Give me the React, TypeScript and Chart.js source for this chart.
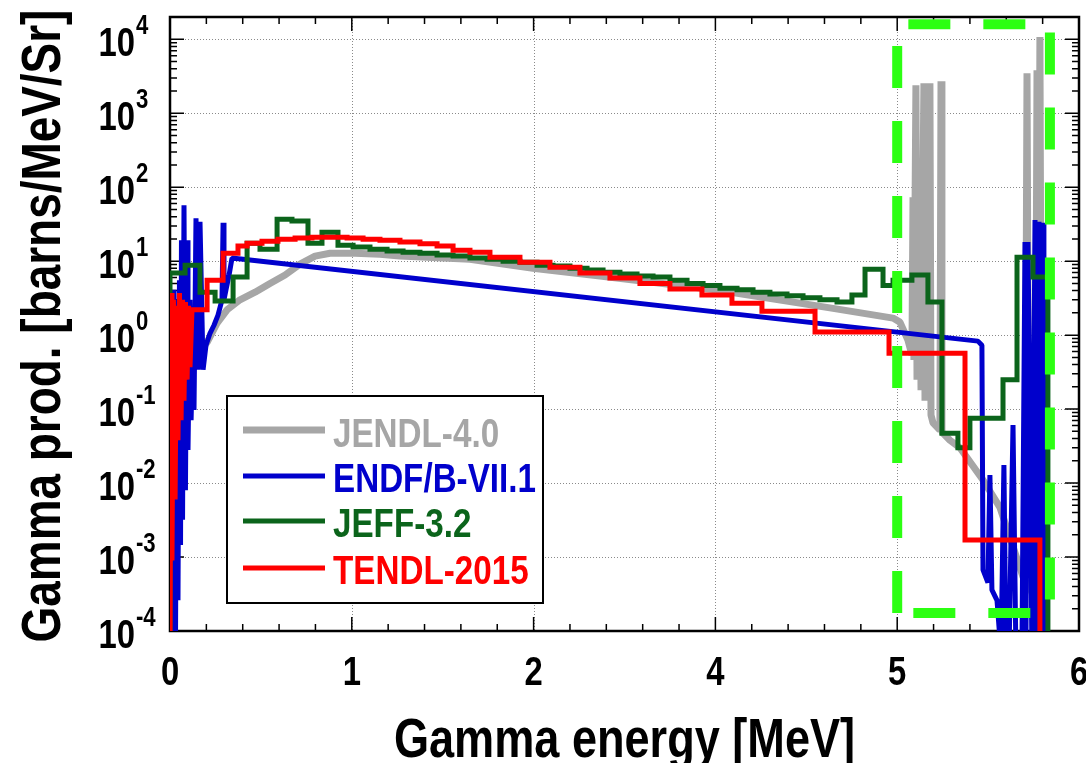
import React, { useEffect, useRef } from "react";
import { Chart, registerables } from "chart.js";

Chart.register(...registerables);

// ---------- axis / labels ----------
const xTickPositions = [0, 1, 2, 3, 4, 5];
const xTickLabels = ["0", "1", "2", "4", "5", "6"];
const yDecades = [-4, -3, -2, -1, 0, 1, 2, 3, 4];
const xTitle = "Gamma energy [MeV]";
const yTitle = "Gamma prod. [barns/MeV/Sr]";

const seriesNames = ["JENDL-4.0", "ENDF/B-VII.1", "JEFF-3.2", "TENDL-2015"];
const seriesColors = ["#a6a6a6", "#0000cc", "#0b641b", "#ff0000"];
const seriesWidths = [7, 5, 5, 5];
const boxColor = "#2cff12";

// ---------- JENDL-4.0 (gray) ----------
const jendlX = [0.003, 0.017, 0.044, 0.099, 0.154, 0.204, 0.259, 0.314, 0.385, 0.468, 0.55, 0.633, 0.715, 0.798, 0.88, 1.018, 1.155, 1.265, 1.65, 1.997, 2.365, 2.998, 3.647, 3.977, 4.015, 4.059, 4.081, 4.087, 4.092, 4.103, 4.109, 4.125, 4.131, 4.147, 4.153, 4.175, 4.18, 4.186, 4.197, 4.235, 4.241, 4.246, 4.29, 4.345, 4.472, 4.565, 4.692, 4.703, 4.714, 4.725, 4.758, 4.769, 4.774, 4.785, 4.796, 4.807];
const jendlY = [5e-5, 0.011, 0.071, 0.25, 0.54, 0.8, 1.45, 2.2, 3.0, 3.8, 5.0, 6.5, 9.1, 11.7, 12.8, 12.8, 12.4, 11.7, 10.6, 8.0, 6.3, 4.1, 2.3, 1.7, 1.5, 0.86, 0.54, 73, 0.46, 2390, 0.25, 73, 0.18, 2540, 0.13, 78, 2540, 0.083, 0.065, 0.052, 2710, 0.049, 0.038, 0.03, 0.011, 0.0047, 5.4e-4, 4.9e-4, 3470, 4.2e-4, 2.6e-4, 3800, 2.6e-4, 10700, 1.5e-4, 5e-5];

// ---------- ENDF/B-VII.1 (blue) ----------
const endfX = [0.003, 0.008, 0.014, 0.022, 0.03, 0.039, 0.044, 0.052, 0.058, 0.063, 0.069, 0.077, 0.085, 0.094, 0.099, 0.11, 0.116, 0.127, 0.132, 0.143, 0.154, 0.165, 0.182, 0.198, 0.22, 0.242, 0.264, 0.286, 0.292, 0.297, 0.308, 0.325, 0.341, 4.444, 4.466, 4.472, 4.499, 4.51, 4.521, 4.549, 4.571, 4.587, 4.598, 4.615, 4.637, 4.653, 4.686, 4.703, 4.708, 4.719, 4.73, 4.741, 4.758, 4.769, 4.78, 4.791, 4.802, 4.807];
const endfY = [5e-5, 1.6, 5e-5, 4.1, 5e-5, 3.0, 2.6e-4, 5.5, 1.45e-3, 19.2, 3.2e-3, 57, 8.0e-3, 19.2, 0.028, 3.0, 0.071, 1.17, 0.097, 38, 0.34, 34, 0.34, 0.73, 1.06, 1.36, 1.86, 3.0, 33, 3.0, 4.1, 6.5, 11.0, 0.83, 0.73, 6.7e-4, 4.5e-4, 0.0128, 3.6e-4, 2.6e-4, 5e-5, 0.0175, 5e-5, 5e-5, 0.061, 5e-5, 5e-5, 18.1, 5e-5, 18.1, 0.097, 5e-5, 36, 5e-5, 34, 5e-5, 33, 5e-5];

// ---------- JEFF-3.2 (green) histogram ----------
const jeffEdges = [0, 0.083, 0.165, 0.248, 0.347, 0.424, 0.495, 0.589, 0.671, 0.759, 0.836, 0.924, 1.007, 1.1, 1.194, 1.282, 1.375, 1.469, 1.557, 1.65, 1.744, 1.832, 1.925, 2.019, 2.107, 2.2, 2.294, 2.382, 2.475, 2.569, 2.657, 2.75, 2.844, 2.932, 3.025, 3.119, 3.207, 3.3, 3.394, 3.482, 3.575, 3.669, 3.751, 3.823, 3.922, 3.977, 4.081, 4.169, 4.246, 4.334, 4.4, 4.582, 4.659, 4.747, 4.829];
const jeffLevels = [6.9, 8.8, 3.8, 2.9, 6.1, 17.5, 14.5, 37, 35, 17.5, 24.6, 16.4, 15.5, 14.5, 13.7, 13.2, 12.8, 12.1, 11.7, 11.0, 10.6, 10.0, 9.7, 8.8, 8.6, 8.0, 7.6, 7.1, 6.7, 6.3, 6.1, 5.5, 5.0, 4.7, 4.3, 4.1, 3.8, 3.6, 3.4, 3.2, 3.0, 2.8, 3.5, 7.8, 4.7, 5.5, 6.5, 2.8, 0.047, 0.03, 0.075, 0.25, 11.3, 6.1];

// ---------- TENDL-2015 (red) ----------
const tendlSpikeX = [0, 0.006, 0.011, 0.019, 0.028, 0.036, 0.044, 0.052, 0.061, 0.069, 0.077, 0.085, 0.094, 0.102, 0.11];
const tendlSpikeY = [5e-5, 3.7, 9e-4, 3.0, 0.006, 2.5, 0.038, 3.7, 0.071, 3.0, 0.13, 2.8, 0.25, 2.5, 0.37];
const tendlEdges = [0.121, 0.204, 0.292, 0.374, 0.424, 0.506, 0.594, 0.688, 0.781, 0.88, 0.974, 1.062, 1.155, 1.265, 1.375, 1.469, 1.557, 1.65, 1.76, 1.925, 2.09, 2.255, 2.42, 2.585, 2.75, 2.926, 3.091, 3.256, 3.548, 3.955, 4.373, 4.785];
const tendlLevels = [2.2, 5.5, 12.8, 16.0, 17.5, 18.6, 19.8, 20.5, 21.1, 21.1, 20.5, 19.8, 19.2, 18.1, 17.2, 16.0, 14.1, 13.2, 11.3, 9.7, 8.3, 6.9, 5.9, 5.0, 4.2, 3.5, 2.7, 2.1, 1.1, 0.57, 0.0017];

// ---------- highlighted region (green dashed box) ----------
const boxX = [4.0, 4.0, 4.84, 4.84, 4.0];
const boxY = [1.75e-4, 1.6e4, 1.6e4, 1.75e-4, 1.75e-4];

const FLOOR = 5e-5;

function zipPts(xs: number[], ys: number[]) {
  return xs.map((x, i) => ({ x, y: ys[i] }));
}
function histPts(edges: number[], levels: number[], startFromFloor: boolean) {
  const pts: { x: number; y: number }[] = [];
  if (startFromFloor) pts.push({ x: edges[0], y: FLOOR });
  levels.forEach((lv, i) => {
    pts.push({ x: edges[i], y: lv });
    pts.push({ x: edges[i + 1], y: lv });
  });
  pts.push({ x: edges[edges.length - 1], y: FLOOR });
  return pts;
}

let narrowAvailable: boolean | null = null;
function hasNarrow(): boolean {
  if (narrowAvailable !== null) return narrowAvailable;
  const c = document.createElement("canvas").getContext("2d")!;
  const s = "ENDF/B-VII.1 Gamma energy";
  c.font = "bold 40px monospace";
  const w1 = c.measureText(s).width;
  c.font = "bold 40px 'Liberation Sans Narrow', monospace";
  const w2 = c.measureText(s).width;
  narrowAvailable = Math.abs(w1 - w2) > 1;
  return narrowAvailable;
}

function txt(
  ctx: CanvasRenderingContext2D,
  s: string,
  x: number,
  y: number,
  size: number,
  align: CanvasTextAlign,
  color: string,
  rot = 0
) {
  ctx.save();
  ctx.translate(x, y);
  if (rot) ctx.rotate(rot);
  ctx.fillStyle = color;
  ctx.textAlign = align;
  ctx.textBaseline = "alphabetic";
  if (hasNarrow()) {
    ctx.font = `bold ${size}px 'Liberation Sans Narrow', 'Liberation Sans', Arial, sans-serif`;
  } else {
    ctx.font = `bold ${size}px 'Liberation Sans', Arial, sans-serif`;
    ctx.scale(0.82, 1);
  }
  ctx.fillText(s, 0, 0);
  ctx.restore();
}

const framePlugin = {
  id: "frameAndTicks",
  beforeDatasetsDraw(chart: any) {
    const { ctx, chartArea: a } = chart;
    const xs = chart.scales.x;
    const ys = chart.scales.y;
    ctx.save();
    // dotted grid
    ctx.strokeStyle = "#8a8a8a";
    ctx.lineWidth = 1;
    ctx.setLineDash([1, 2]);
    xTickPositions.forEach((p) => {
      const px = Math.round(xs.getPixelForValue(p)) + 0.5;
      if (px > a.left + 2 && px < a.right - 2) {
        ctx.beginPath();
        ctx.moveTo(px, a.top);
        ctx.lineTo(px, a.bottom);
        ctx.stroke();
      }
    });
    yDecades.forEach((d) => {
      const py = Math.round(ys.getPixelForValue(Math.pow(10, d))) + 0.5;
      if (py > a.top + 2 && py < a.bottom - 2) {
        ctx.beginPath();
        ctx.moveTo(a.left, py);
        ctx.lineTo(a.right, py);
        ctx.stroke();
      }
    });
    ctx.setLineDash([]);
    // inward ticks
    ctx.strokeStyle = "#000";
    ctx.lineWidth = 1.5;
    for (let i = 0; i <= 25; i++) {
      const v = i * 0.2;
      const px = xs.getPixelForValue(v);
      const len = i % 5 === 0 ? 14 : 7;
      ctx.beginPath();
      ctx.moveTo(px, a.bottom);
      ctx.lineTo(px, a.bottom - len);
      ctx.moveTo(px, a.top);
      ctx.lineTo(px, a.top + len);
      ctx.stroke();
    }
    const ymax = ys.max;
    yDecades.forEach((d) => {
      for (let m = 1; m <= 9; m++) {
        const v = m * Math.pow(10, d);
        if (v >= ymax) continue;
        const py = ys.getPixelForValue(v);
        const len = m === 1 ? 14 : 7;
        ctx.beginPath();
        ctx.moveTo(a.left, py);
        ctx.lineTo(a.left + len, py);
        ctx.moveTo(a.right, py);
        ctx.lineTo(a.right - len, py);
        ctx.stroke();
      }
    });
    // frame
    ctx.lineWidth = 2.5;
    ctx.strokeRect(a.left, a.top, a.right - a.left, a.bottom - a.top);
    ctx.restore();
  },
  afterDatasetsDraw(chart: any) {
    const { ctx, chartArea: a } = chart;
    const xs = chart.scales.x;
    const ys = chart.scales.y;
    // y tick labels
    yDecades.forEach((d) => {
      const gy = ys.getPixelForValue(Math.pow(10, d));
      txt(ctx, "10", 135, gy + 17, 40, "right", "#000");
      txt(ctx, String(d), 136, gy - 5, 27, "left", "#000");
    });
    // x tick labels
    xTickPositions.forEach((p, i) => {
      const px = xs.getPixelForValue(p);
      txt(ctx, xTickLabels[i], px, 685, 40, "center", "#000");
    });
    // titles
    txt(ctx, xTitle, (a.left + a.right) / 2, 757, 55, "center", "#000");
    txt(ctx, yTitle, 60, (a.top + a.bottom) / 2 + 2, 56, "center", "#000", -Math.PI / 2);
    // legend
    ctx.save();
    ctx.fillStyle = "#fff";
    ctx.fillRect(227, 396, 316, 207);
    ctx.strokeStyle = "#000";
    ctx.lineWidth = 2;
    ctx.strokeRect(227, 396, 316, 207);
    const lineY = [430, 476, 521, 568];
    const textY = [447, 492, 537, 584];
    seriesNames.forEach((name, i) => {
      ctx.strokeStyle = seriesColors[i];
      ctx.lineWidth = seriesWidths[i];
      ctx.beginPath();
      ctx.moveTo(243, lineY[i]);
      ctx.lineTo(325, lineY[i]);
      ctx.stroke();
      txt(ctx, name, 333, textY[i], 40.5, "left", seriesColors[i]);
    });
    ctx.restore();
  },
};

export default function App() {
  const ref = useRef<HTMLCanvasElement | null>(null);
  useEffect(() => {
    if (!ref.current) return;
    const datasets: any[] = [
      {
        label: "box",
        data: zipPts(boxX, boxY),
        borderColor: boxColor,
        borderWidth: 10,
        borderDash: [42, 33],
        borderCapStyle: "butt",
        order: 1,
      },
      {
        label: seriesNames[3],
        data: [...zipPts(tendlSpikeX, tendlSpikeY), ...histPts(tendlEdges, tendlLevels, false)],
        borderColor: seriesColors[3],
        borderWidth: seriesWidths[3],
        borderJoinStyle: "miter",
        order: 2,
      },
      {
        label: seriesNames[2],
        data: histPts(jeffEdges, jeffLevels, true),
        borderColor: seriesColors[2],
        borderWidth: seriesWidths[2],
        borderJoinStyle: "miter",
        order: 3,
      },
      {
        label: seriesNames[1],
        data: zipPts(endfX, endfY),
        borderColor: seriesColors[1],
        borderWidth: seriesWidths[1],
        borderJoinStyle: "bevel",
        order: 4,
      },
      {
        label: seriesNames[0],
        data: zipPts(jendlX, jendlY),
        borderColor: seriesColors[0],
        borderWidth: seriesWidths[0],
        borderJoinStyle: "bevel",
        order: 5,
      },
    ];
    const chart = new Chart(ref.current, {
      type: "line",
      data: { datasets },
      options: {
        animation: false,
        responsive: false,
        maintainAspectRatio: false,
        layout: { padding: { left: 170, right: 7, top: 17, bottom: 132 } },
        plugins: { legend: { display: false }, tooltip: { enabled: false } },
        elements: {
          point: { radius: 0, hoverRadius: 0 },
          line: { tension: 0, fill: false },
        },
        scales: {
          x: {
            type: "linear",
            min: 0,
            max: 5,
            grid: { display: false },
            border: { display: false },
            ticks: { display: false },
            afterFit: (s: any) => {
              s.height = 0;
            },
          },
          y: {
            type: "logarithmic",
            min: 1e-4,
            max: 2e4,
            grid: { display: false },
            border: { display: false },
            ticks: { display: false },
            afterFit: (s: any) => {
              s.width = 0;
            },
          },
        },
      } as any,
      plugins: [framePlugin],
    });
    return () => chart.destroy();
  }, []);
  return (
    <div style={{ position: "fixed", left: 0, top: 0, width: 1086, height: 763, background: "#fff" }}>
      <canvas ref={ref} width={1086} height={763} style={{ width: 1086, height: 763, display: "block" }} />
    </div>
  );
}
